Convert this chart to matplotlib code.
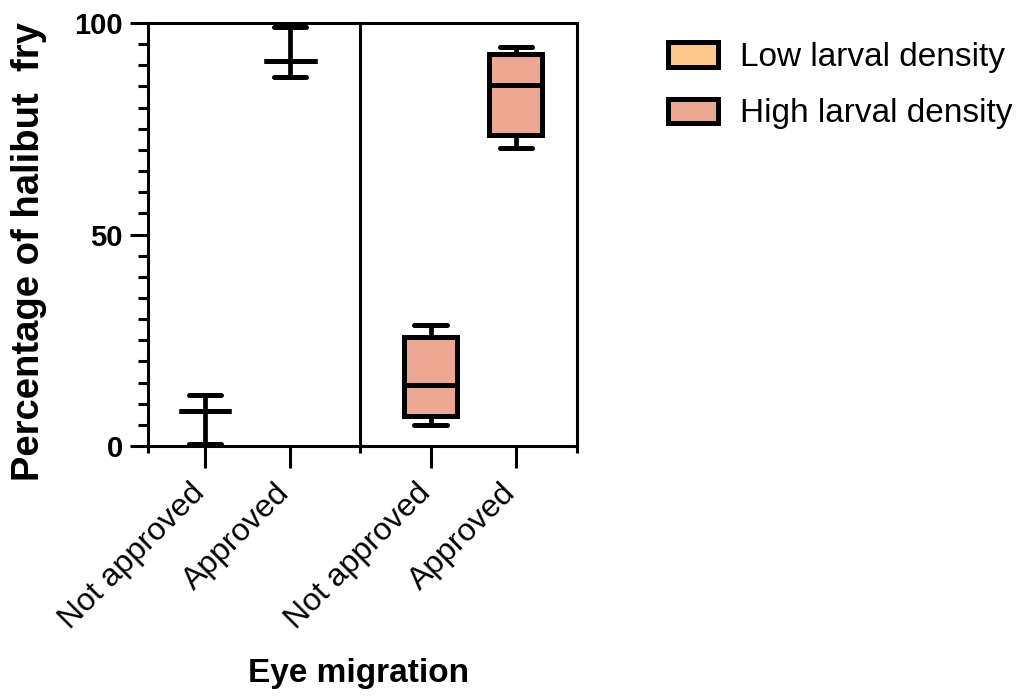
import numpy as np
import matplotlib.pyplot as plt
from matplotlib.patches import Patch
from matplotlib.transforms import ScaledTranslation

plt.rcParams['font.family'] = ['Liberation Sans', 'DejaVu Sans']

# categories and box statistics
labels = ['Not approved', 'Approved', 'Not approved', 'Approved']
groups = ['Low larval density', 'Low larval density', 'High larval density', 'High larval density']
whislo = [0.5, 87.2, 5.0, 70.5]
q1 = [8.3, 91.0, 7.1, 73.6]
med = [8.3, 91.0, 14.5, 85.3]
q3 = [8.3, 91.0, 25.9, 92.6]
whishi = [12.1, 99.0, 28.7, 94.3]

colors = {'Low larval density': '#FDC88A', 'High larval density': '#EDA894'}
pos = [0, 1, 2.65, 3.65]

fig = plt.figure(figsize=(10.24, 6.97), dpi=100)
ax = fig.add_axes([0.1445, 0.36, 0.419, 0.607])

stats = []
for i in range(len(labels)):
    stats.append(dict(whislo=whislo[i], q1=q1[i], med=med[i], q3=q3[i],
                      whishi=whishi[i], fliers=[]))

bp = ax.bxp(stats, positions=pos, widths=0.62, capwidths=0.38,
            patch_artist=True, showfliers=False,
            boxprops=dict(linewidth=3.6, edgecolor='black'),
            medianprops=dict(linewidth=3.6, color='black', solid_capstyle='butt'),
            whiskerprops=dict(linewidth=3.4, color='black'),
            capprops=dict(linewidth=3.6, color='black', solid_capstyle='round'))
for patch, g in zip(bp['boxes'], groups):
    patch.set_facecolor(colors[g])

sep = (pos[1] + pos[2]) / 2
ax.axvline(sep, color='black', lw=2.2, ymin=-0.012, clip_on=False)

ax.set_xlim(-0.67, 4.37)
ax.set_ylim(0, 100)

for s in ax.spines.values():
    s.set_linewidth(2.2)

ax.set_xticks(pos)
ax.set_xticks([-0.67, sep, 4.37], minor=True)
ax.tick_params(axis='x', which='major', length=16, width=2.2, pad=4)
ax.tick_params(axis='x', which='minor', length=5, width=2.2)
ax.set_xticklabels(labels, rotation=45, ha='right', rotation_mode='anchor', fontsize=23)

ax.set_yticks([0, 50, 100])
ax.set_yticklabels(['0', '50', '100'], fontsize=21, fontweight='bold')
ax.set_yticks(np.arange(0, 101, 5), minor=True)
ax.tick_params(axis='y', which='major', length=13, width=2.2, pad=5)
ax.tick_params(axis='y', which='minor', length=7, width=2.2)

# nudge rotated labels a little left/down like the original
off = ScaledTranslation(-11 / 72, -3 / 72, fig.dpi_scale_trans)
for lab in ax.get_xticklabels():
    lab.set_transform(lab.get_transform() + off)

ax.set_ylabel('Percentage of halibut  fry', fontsize=27.5, fontweight='bold')
ax.yaxis.set_label_coords(-0.235, 0.459)
ax.set_xlabel('Eye migration', fontsize=24, fontweight='bold')
ax.xaxis.set_label_coords(0.49, -0.5)

handles = [Patch(facecolor=colors[k], edgecolor='black', linewidth=3.6, label=k)
           for k in ['Low larval density', 'High larval density']]
fig.legend(handles=handles, loc='upper left', bbox_to_anchor=(0.652, 0.94),
           frameon=False, fontsize=24, handlelength=1.5, handleheight=0.76,
           handletextpad=0.67, labelspacing=0.77, borderpad=0, borderaxespad=0)

fig.savefig('out.png', dpi=100)
